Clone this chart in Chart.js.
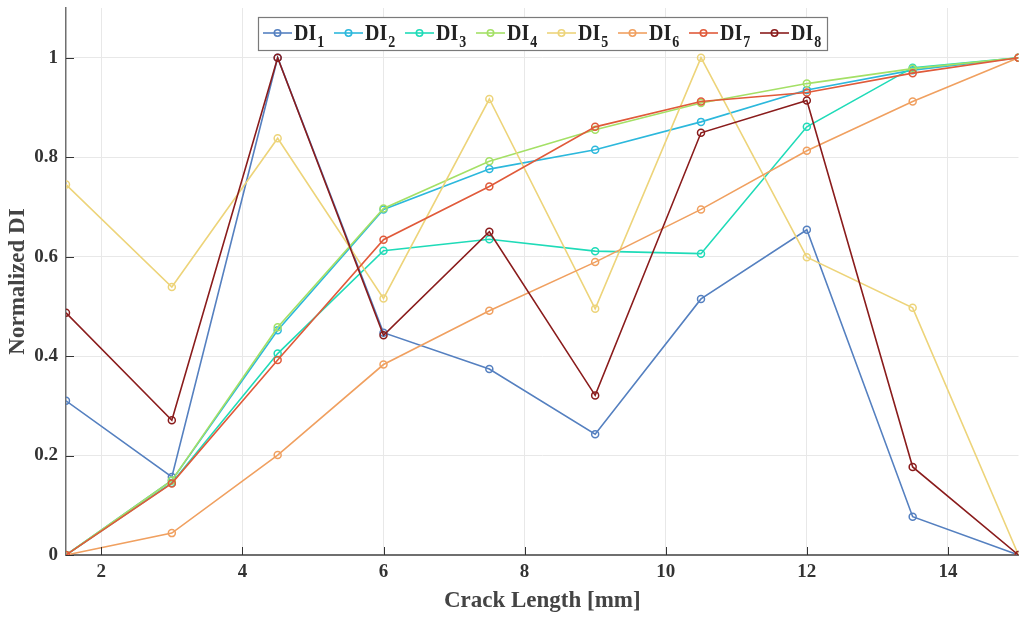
<!DOCTYPE html>
<html>
<head>
<meta charset="utf-8">
<script src="https://cdn.jsdelivr.net/npm/chart.js@4.4.1/dist/chart.umd.min.js"></script>
<style>
  html, body { margin: 0; padding: 0; background: #fff; }
  #wrap { width: 1024px; height: 617px; }
</style>
</head>
<body>
<div id="wrap"><canvas id="diChart" width="1024" height="617"></canvas></div>
<script>
// Normalized damage index vs crack length
const crackLength = [1.5, 3, 4.5, 6, 7.5, 9, 10.5, 12, 13.5, 15];
const xTicks = [2, 4, 6, 8, 10, 12, 14];
const yTicks = [0, 0.2, 0.4, 0.6, 0.8, 1];

const di1 = [0.31, 0.157, 1.0, 0.447, 0.374, 0.243, 0.515, 0.654, 0.077, 0];
const di2 = [0, 0.15, 0.452, 0.695, 0.776, 0.815, 0.871, 0.935, 0.975, 1];
const di3 = [0, 0.145, 0.405, 0.612, 0.635, 0.611, 0.606, 0.861, 0.98, 1];
const di4 = [0, 0.15, 0.458, 0.697, 0.792, 0.855, 0.909, 0.948, 0.978, 1];
const di5 = [0.745, 0.539, 0.838, 0.516, 0.917, 0.495, 1.0, 0.599, 0.497, 0];
const di6 = [0, 0.044, 0.201, 0.383, 0.491, 0.589, 0.695, 0.813, 0.912, 1];
const di7 = [0, 0.144, 0.392, 0.634, 0.741, 0.861, 0.912, 0.93, 0.969, 1];
const di8 = [0.487, 0.271, 1.0, 0.442, 0.65, 0.321, 0.849, 0.914, 0.177, 0];

const seriesNames = ['1', '2', '3', '4', '5', '6', '7', '8'];
const seriesValues = [di1, di2, di3, di4, di5, di6, di7, di8];
const seriesColors = ['#5580c0', '#2cb8dc', '#1fdbb8', '#a4e066', '#edd47a', '#f0a060', '#e05a3a', '#8a1c1c'];

const serif = '"Liberation Serif", "Times New Roman", serif';

const datasets = seriesValues.map(function(vals, i) {
    return {
        label: 'DI' + seriesNames[i],
        data: vals.map(function(v, j) { return { x: crackLength[j], y: v }; }),
        borderColor: seriesColors[i],
        backgroundColor: 'rgba(0,0,0,0)',
        borderWidth: 1.6,
        pointStyle: 'circle',
        pointRadius: 3.5,
        pointBorderWidth: 1.5,
        pointBorderColor: seriesColors[i],
        pointBackgroundColor: 'rgba(0,0,0,0)',
        tension: 0,
        fill: false,
        order: seriesValues.length - 1 - i
    };
});

// inward ticks + legend box drawn inside the plot area
const extras = {
    id: 'extras',
    afterDraw: function(chart) {
        const ctx = chart.ctx;
        const xs = chart.scales.x, ys = chart.scales.y;
        const area = chart.chartArea;
        ctx.save();
        ctx.strokeStyle = '#333';
        ctx.lineWidth = 1;
        xTicks.forEach(function(t) {
            const px = Math.round(xs.getPixelForValue(t)) + 0.5;
            ctx.beginPath();
            ctx.moveTo(px, area.bottom);
            ctx.lineTo(px, area.bottom - 8);
            ctx.stroke();
        });
        yTicks.forEach(function(t) {
            const py = Math.round(ys.getPixelForValue(t)) + 0.5;
            ctx.beginPath();
            ctx.moveTo(area.left, py);
            ctx.lineTo(area.left + 8, py);
            ctx.stroke();
        });

        // legend
        const bx = 258, by = 17, bw = 569, bh = 33;
        ctx.fillStyle = '#fff';
        ctx.fillRect(bx, by, bw, bh);
        ctx.strokeStyle = '#7a7a7a';
        ctx.lineWidth = 1.2;
        ctx.strokeRect(bx + 0.5, by + 0.5, bw, bh);
        const step = 71;
        const midY = by + 16;
        for (let i = 0; i < seriesNames.length; i++) {
            const x0 = bx + 5 + i * step;
            ctx.strokeStyle = seriesColors[i];
            ctx.lineWidth = 1.6;
            ctx.beginPath();
            ctx.moveTo(x0, midY);
            ctx.lineTo(x0 + 29, midY);
            ctx.stroke();
            ctx.beginPath();
            ctx.arc(x0 + 14.5, midY, 3.2, 0, Math.PI * 2);
            ctx.stroke();
            ctx.fillStyle = '#222';
            ctx.textBaseline = 'alphabetic';
            ctx.textAlign = 'left';
            // text in the reference is slightly stretched vertically
            ctx.save();
            ctx.translate(x0 + 31, midY + 7);
            ctx.scale(1, 1.15);
            ctx.font = 'bold 20px ' + serif;
            ctx.fillText('DI', 0, 0);
            const w = ctx.measureText('DI').width;
            ctx.font = 'bold 14px ' + serif;
            ctx.fillText(seriesNames[i], w + 1, 6);
            ctx.restore();
        }
        ctx.restore();
    }
};

new Chart(document.getElementById('diChart'), {
    type: 'line',
    data: { datasets: datasets },
    plugins: [extras],
    options: {
        responsive: false,
        animation: false,
        layout: { padding: { top: 8, right: 3, left: 0, bottom: 0 } },
        plugins: {
            legend: { display: false },
            tooltip: { enabled: false }
        },
        scales: {
            x: {
                type: 'linear',
                min: 1.5,
                max: 15,
                afterBuildTicks: function(scale) {
                    scale.ticks = xTicks.map(function(v) { return { value: v }; });
                },
                afterFit: function(scale) { scale.height = 62; },
                grid: { color: '#e8e8e8', lineWidth: 1, drawTicks: false },
                border: { color: '#6f6f6f', width: 2 },
                ticks: {
                    padding: 6,
                    color: '#333',
                    font: { family: serif, size: 19, weight: 'bold' },
                    maxRotation: 0
                },
                title: {
                    display: true,
                    text: 'Crack Length [mm]',
                    color: '#444',
                    padding: { top: 0, bottom: 2 },
                    font: { family: serif, size: 23, weight: 'bold' }
                }
            },
            y: {
                min: 0,
                max: 1.1,
                afterBuildTicks: function(scale) {
                    scale.ticks = yTicks.map(function(v) { return { value: v }; });
                },
                afterFit: function(scale) {
                    scale.width = 66;
                    scale.paddingTop = 0;
                    scale.paddingBottom = 0;
                },
                grid: { color: '#e8e8e8', lineWidth: 1, drawTicks: false },
                border: { color: '#6f6f6f', width: 1.5 },
                ticks: {
                    padding: 8,
                    color: '#333',
                    font: { family: serif, size: 19, weight: 'bold' },
                    callback: function(v) { return String(+v.toFixed(1)); }
                },
                title: {
                    display: true,
                    text: 'Normalized DI',
                    color: '#444',
                    padding: { top: 4, bottom: 0 },
                    font: { family: serif, size: 23, weight: 'bold' }
                }
            }
        }
    }
});
</script>
</body>
</html>
